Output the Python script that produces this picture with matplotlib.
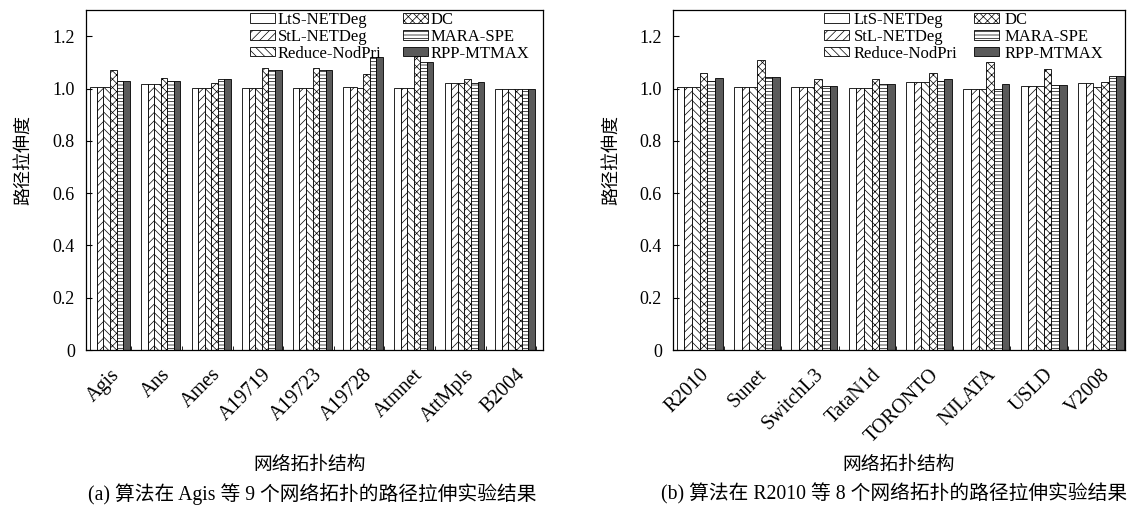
import numpy as np
import matplotlib
matplotlib.use("Agg")
import matplotlib.pyplot as plt

plt.rcParams['font.family'] = ['Liberation Serif', 'Noto Sans CJK SC', 'DejaVu Sans']
plt.rcParams['hatch.linewidth'] = 0.5

# bar order inside a group (also legend order, column-major)
order = ['LtS-NETDeg', 'StL-NETDeg', 'Reduce-NodPri', 'DC', 'MARA-SPE', 'RPP-MTMAX']
hatches = {'LtS-NETDeg': '', 'StL-NETDeg': '////', 'Reduce-NodPri': '\\\\\\\\',
           'DC': 'xxxx', 'MARA-SPE': '-----', 'RPP-MTMAX': ''}
faces = {'LtS-NETDeg': 'white', 'StL-NETDeg': 'white', 'Reduce-NodPri': 'white',
         'DC': 'white', 'MARA-SPE': 'white', 'RPP-MTMAX': '#5a5a5a'}

nets_a = ['Agis', 'Ans', 'Ames', 'A19719', 'A19723', 'A19728', 'Atmnet', 'AttMpls', 'B2004']
lts_a = [1.008, 1.018, 1.003, 1.003, 1.003, 1.008, 1.003, 1.020, 1.000]
stl_a = [1.008, 1.018, 1.003, 1.003, 1.003, 1.008, 1.003, 1.020, 1.000]
red_a = [1.008, 1.018, 1.003, 1.003, 1.003, 1.003, 1.003, 1.020, 1.000]
dc_a = [1.070, 1.040, 1.020, 1.080, 1.078, 1.055, 1.125, 1.035, 1.000]
mara_a = [1.030, 1.030, 1.038, 1.073, 1.073, 1.120, 1.103, 1.020, 1.000]
rpp_a = [1.030, 1.030, 1.038, 1.073, 1.073, 1.120, 1.103, 1.027, 1.000]

nets_b = ['R2010', 'Sunet', 'SwitchL3', 'TataN1d', 'TORONTO', 'NJLATA', 'USLD', 'V2008']
lts_b = [1.008, 1.008, 1.008, 1.003, 1.027, 1.000, 1.010, 1.020]
stl_b = [1.008, 1.008, 1.008, 1.003, 1.027, 1.000, 1.010, 1.020]
red_b = [1.008, 1.008, 1.008, 1.003, 1.027, 1.000, 1.010, 1.005]
dc_b = [1.058, 1.110, 1.035, 1.035, 1.058, 1.100, 1.075, 1.027]
mara_b = [1.030, 1.045, 1.010, 1.017, 1.030, 1.000, 1.015, 1.050]
rpp_b = [1.040, 1.045, 1.010, 1.017, 1.035, 1.018, 1.015, 1.050]

data_a = dict(zip(order, [lts_a, stl_a, red_a, dc_a, mara_a, rpp_a]))
data_b = dict(zip(order, [lts_b, stl_b, red_b, dc_b, mara_b, rpp_b]))

fig = plt.figure(figsize=(11.29, 5.11), dpi=100)
ax1 = fig.add_axes([0.0762, 0.315, 0.4048, 0.665])
ax2 = fig.add_axes([0.596, 0.315, 0.4005, 0.665])


def draw(ax, nets, data, bw, xlim, leg_x, pad, colsp):
    x = np.arange(len(nets))
    handles = []
    for i, m in enumerate(order):
        pos = x - 3 * bw + (i + 0.5) * bw
        b = ax.bar(pos, data[m], bw, facecolor=faces[m], edgecolor='black',
                   hatch=hatches[m], linewidth=0.6, label=m)
        handles.append(b)
    ax.set_xlim(*xlim)
    ax.set_ylim(0, 1.3)
    ax.set_yticks([0, 0.2, 0.4, 0.6, 0.8, 1.0, 1.2])
    ax.set_yticklabels(['0', '0.2', '0.4', '0.6', '0.8', '1.0', '1.2'])
    ax.set_xticks(x)
    ax.set_xticklabels(nets, rotation=45, ha='right', va='top', rotation_mode='anchor')
    ax.set_xticks(x + 0.42, minor=True)
    ax.tick_params(axis='x', which='major', length=0, pad=11, labelsize=14.5)
    ax.tick_params(axis='x', which='minor', direction='in', length=3)
    ax.tick_params(axis='y', direction='in', length=4, labelsize=13, pad=8)
    for s in ax.spines.values():
        s.set_linewidth(0.9)
    ax.legend(handles, order, ncol=2, frameon=False,
              loc='upper left', bbox_to_anchor=(leg_x, 1.0), fontsize=12,
              handlelength=1.5, handleheight=0.5, handletextpad=pad,
              columnspacing=colsp, labelspacing=0.05, borderpad=0.1, borderaxespad=0)


draw(ax1, nets_a, data_a, 0.13, (-0.475, 8.555), 0.355, 0.15, 1.3)
draw(ax2, nets_b, data_b, 0.134, (-0.47, 7.4), 0.33, 0.3, 1.0)

fig.text(24 / 1129, 1 - 160 / 511, '路径拉伸度', rotation=90, ha='center', va='center', fontsize=13)
fig.text(612 / 1129, 1 - 160 / 511, '路径拉伸度', rotation=90, ha='center', va='center', fontsize=13)

fig.text(310 / 1129, 1 - 465 / 511, '网络拓扑结构', ha='center', va='center', fontsize=13.5)
fig.text(899 / 1129, 1 - 465 / 511, '网络拓扑结构', ha='center', va='center', fontsize=13.5)
fig.text(312 / 1129, 1 - 494 / 511, '(a) 算法在 Agis 等 9 个网络拓扑的路径拉伸实验结果',
         ha='center', va='center', fontsize=14.2)
fig.text(1127 / 1129, 1 - 494 / 511, '(b) 算法在 R2010 等 8 个网络拓扑的路径拉伸实验结果',
         ha='right', va='center', fontsize=14.2)

fig.savefig('out.png', dpi=100)
